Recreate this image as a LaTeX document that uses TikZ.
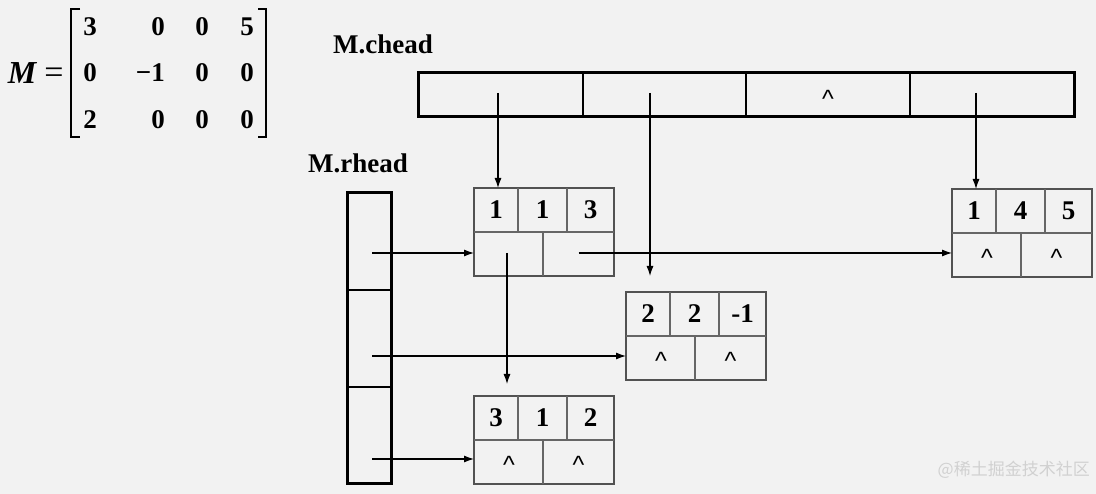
\documentclass[tikz,border=0pt]{standalone}
\usepackage{fontspec}
\setmainfont{Liberation Serif}
\newfontfamily\cjk{Noto Sans CJK SC}
\newfontfamily\caretfont{Liberation Sans}
\usetikzlibrary{arrows.meta,calc}
\definecolor{bg}{RGB}{242,242,242}
\newcommand\recnode[6]{%
  \node[recbox, anchor=north west] (#1) at (#2,#3) {};
  \draw[div] (#1.west) -- (#1.east);
  \draw[div] ($(#1.north west)+(44,0)$) -- ($(#1.west)+(44,0)$);
  \draw[div] ($(#1.north west)+(93,0)$) -- ($(#1.west)+(93,0)$);
  \draw[div] ($(#1.west)+(69,0)$) -- ($(#1.south west)+(69,0)$);
  \node[num] (#1a) at ($(#2,#3)+(22,22)$) {#4};
  \node[num] (#1b) at ($(#2,#3)+(68.5,22)$) {#5};
  \node[num] (#1c) at ($(#2,#3)+(116.5,22)$) {#6};
  \coordinate (#1p) at ($(#2,#3)+(33,65)$);
  \coordinate (#1q) at ($(#2,#3)+(104.5,65)$);
}
\begin{document}
\begin{tikzpicture}[x=1pt,y=-1pt,
 num/.style={font=\fontsize{27}{27}\selectfont\bfseries, inner sep=0},
 caret/.style={font=\caretfont\fontsize{25}{25}\selectfont, inner sep=0},
 recbox/.style={draw=black!68, line width=2.2pt, minimum width=140pt, minimum height=88pt, inner sep=0, outer sep=0},
 div/.style={draw=black!60, line width=1.2pt},
 headbox/.style={draw=black, line width=3pt, inner sep=0, outer sep=0},
 hdiv/.style={draw=black, line width=1.4pt},
 link/.style={draw=black, line width=1.1pt, -{Latex[length=10pt,width=7pt]}},
 lbl/.style={font=\fontsize{27}{27}\selectfont\bfseries, inner sep=0, anchor=base west},
 mat/.style={font=\fontsize{27}{27}\selectfont\bfseries, inner sep=0}
]
\fill[bg] (0,0) rectangle (1096,494);
\useasboundingbox (0,0) rectangle (1096,494);

% matrix
\node[font=\fontsize{32}{32}\selectfont\bfseries\itshape, inner sep=0] (mM) at (22,73) {M};
\node[font=\fontsize{34}{34}\selectfont, inner sep=0] (meq) at (54,76) {=};
\draw[line width=2.2pt] (80,9) -- (71,9) -- (71,137) -- (80,137);
\draw[line width=2.2pt] (258,9) -- (266,9) -- (266,137) -- (258,137);
\node[mat] (m11) at (90,27) {3};
\node[mat, anchor=east] (m12) at (165,27) {0};
\node[mat] (m13) at (202,27) {0};
\node[mat] (m14) at (247,27) {5};
\node[mat] (m21) at (90,73) {0};
\node[mat, anchor=east] (m22) at (165,73) {−1};
\node[mat] (m23) at (202,73) {0};
\node[mat] (m24) at (247,73) {0};
\node[mat] (m31) at (90,120) {2};
\node[mat, anchor=east] (m32) at (165,120) {0};
\node[mat] (m33) at (202,120) {0};
\node[mat] (m34) at (247,120) {0};

% labels
\node[lbl] (lch) at (333,54) {M.chead};
\node[lbl] (lrh) at (308,173) {M.rhead};

% chead
\node[headbox, minimum width=656pt, minimum height=44pt, anchor=north west] (chead) at (418,73) {};
\draw[hdiv] (583,73) -- (583,117);
\draw[hdiv] (746,73) -- (746,117);
\draw[hdiv] (910,73) -- (910,117);
\coordinate (ch1) at (498,93);
\coordinate (ch2) at (650,93);
\coordinate (ch4) at (976,93);
\node[caret] (chc) at (828,99) {\^{}};

% rhead
\node[headbox, minimum width=44pt, minimum height=290pt, anchor=north west] (rhead) at (347,193) {};
\draw[hdiv] (347,290) -- (391,290);
\draw[hdiv] (347,387) -- (391,387);
\coordinate (rh1) at (372,253);
\coordinate (rh2) at (372,356);
\coordinate (rh3) at (372,459);

% records
\recnode{n113}{474}{188}{1}{1}{3}
\recnode{n145}{952}{189}{1}{4}{5}
\recnode{n221}{626}{292}{2}{2}{-1}
\recnode{n312}{474}{396}{3}{1}{2}
\node[caret] (c145p) at ($(n145p)+(2,4)$) {\^{}};
\node[caret] (c145q) at ($(n145q)+(0,4)$) {\^{}};
\node[caret] (c221p) at ($(n221p)+(2,4)$) {\^{}};
\node[caret] (c221q) at ($(n221q)+(0,4)$) {\^{}};
\node[caret] (c312p) at ($(n312p)+(2,4)$) {\^{}};
\node[caret] (c312q) at ($(n312q)+(0,4)$) {\^{}};

\coordinate (e221) at (650,276);
\coordinate (e312) at (506,384);

% connectors
\draw[link] (ch1) -- (ch1 |- n113.north);
\draw[link] (ch2) -- (e221);
\draw[link] (ch4) -- (ch4 |- n145.north);
\draw[link] (rh1) -- (rh1 -| n113.west);
\draw[link] (rh2) -- (rh2 -| n221.west);
\draw[link] (rh3) -- (rh3 -| n312.west);
\draw[link] (n113q) -- (n113q -| n145.west);
\draw[link] (n113p) -- (n113p |- e312);

% watermark
\node[anchor=east, text=black!18, font=\cjk\fontsize{17}{17}\selectfont, inner sep=0] (wm) at (1090,470) {@稀土掘金技术社区};
\end{tikzpicture}
\end{document}
